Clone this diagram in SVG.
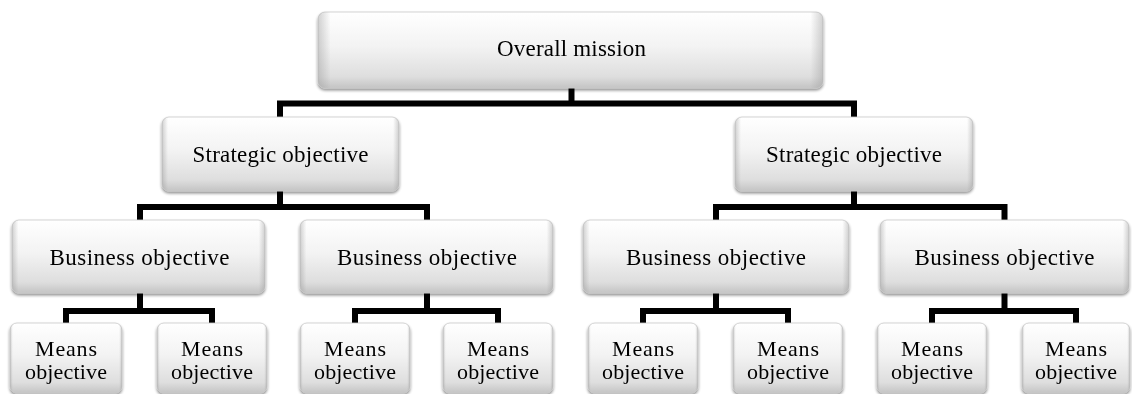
<svg xmlns="http://www.w3.org/2000/svg" width="1132" height="394" viewBox="0 0 1132 394">
  <defs>
    <linearGradient id="boxFill" x1="0" y1="0" x2="0" y2="1">
      <stop offset="0" stop-color="#ffffff"/>
      <stop offset="0.45" stop-color="#f3f3f3"/>
      <stop offset="0.85" stop-color="#dedede"/>
      <stop offset="1" stop-color="#c4c4c4"/>
    </linearGradient>
    <linearGradient id="sideShade" x1="0" y1="0" x2="1" y2="0">
      <stop offset="0" stop-color="#9a9a9a" stop-opacity="0.45"/>
      <stop offset="0.025" stop-color="#9a9a9a" stop-opacity="0"/>
      <stop offset="0.975" stop-color="#9a9a9a" stop-opacity="0"/>
      <stop offset="1" stop-color="#9a9a9a" stop-opacity="0.45"/>
    </linearGradient>
    <filter id="shadow" x="-5%" y="-10%" width="110%" height="125%">
      <feGaussianBlur in="SourceAlpha" stdDeviation="1.5"/>
      <feOffset dx="0" dy="2" result="blur"/>
      <feComponentTransfer><feFuncA type="linear" slope="0.45"/></feComponentTransfer>
      <feMerge><feMergeNode/><feMergeNode in="SourceGraphic"/></feMerge>
    </filter>
  </defs>
  <style>
    .box { fill: url(#boxFill); stroke: #c9c9c9; stroke-width: 0.8; }
    .shade { fill: url(#sideShade); stroke: none; }
    .lbl { font-family: "Liberation Serif", "Times New Roman", serif; font-size: 23px; fill: #000; text-anchor: middle; }
    .sm { font-size: 22px; }
    .link { fill: none; stroke: #000; stroke-width: 6; stroke-linejoin: miter; }
  </style>
  <rect width="1132" height="394" fill="#ffffff"/>

  <!-- connectors -->
  <g id="connectors">
    <path class="link" d="M571.5 88 V103.5"/>
    <path class="link" d="M280 117 V103.5 H854 V117"/>
    <path class="link" d="M280 191 V207"/>
    <path class="link" d="M140 220 V207 H427 V220"/>
    <path class="link" d="M854 191 V207"/>
    <path class="link" d="M716 220 V207 H1004.5 V220"/>
    <path class="link" d="M140 293 V311"/>
    <path class="link" d="M66 323 V311 H212 V323"/>
    <path class="link" d="M427 293 V311"/>
    <path class="link" d="M355 323 V311 H498 V323"/>
    <path class="link" d="M716 293 V311"/>
    <path class="link" d="M643 323 V311 H788 V323"/>
    <path class="link" d="M1004.5 293 V311"/>
    <path class="link" d="M932 323 V311 H1076 V323"/>
  </g>

  <!-- top level -->
  <g id="overall-mission" filter="url(#shadow)">
    <rect class="box" x="318" y="12" width="505" height="76" rx="7"/>
    <rect class="shade" x="318" y="12" width="505" height="76" rx="7"/>
    <text class="lbl" x="571.5" y="56" textLength="149" lengthAdjust="spacing">Overall mission</text>
  </g>

  <!-- strategic level -->
  <g id="strategic-left" filter="url(#shadow)">
    <rect class="box" x="162" y="117" width="237" height="74" rx="7"/>
    <rect class="shade" x="162" y="117" width="237" height="74" rx="7"/>
    <text class="lbl" x="280.5" y="162" textLength="176" lengthAdjust="spacing">Strategic objective</text>
  </g>
  <g id="strategic-right" filter="url(#shadow)">
    <rect class="box" x="735" y="117" width="238" height="74" rx="7"/>
    <rect class="shade" x="735" y="117" width="238" height="74" rx="7"/>
    <text class="lbl" x="854" y="162" textLength="176" lengthAdjust="spacing">Strategic objective</text>
  </g>

  <!-- business level -->
  <g id="business-1" filter="url(#shadow)">
    <rect class="box" x="12" y="220" width="253" height="73" rx="7"/>
    <rect class="shade" x="12" y="220" width="253" height="73" rx="7"/>
    <text class="lbl" x="139.5" y="265" textLength="180" lengthAdjust="spacing">Business objective</text>
  </g>
  <g id="business-2" filter="url(#shadow)">
    <rect class="box" x="300" y="220" width="253" height="73" rx="7"/>
    <rect class="shade" x="300" y="220" width="253" height="73" rx="7"/>
    <text class="lbl" x="427" y="265" textLength="180" lengthAdjust="spacing">Business objective</text>
  </g>
  <g id="business-3" filter="url(#shadow)">
    <rect class="box" x="583" y="220" width="266" height="73" rx="7"/>
    <rect class="shade" x="583" y="220" width="266" height="73" rx="7"/>
    <text class="lbl" x="716" y="265" textLength="180" lengthAdjust="spacing">Business objective</text>
  </g>
  <g id="business-4" filter="url(#shadow)">
    <rect class="box" x="880" y="220" width="249" height="73" rx="7"/>
    <rect class="shade" x="880" y="220" width="249" height="73" rx="7"/>
    <text class="lbl" x="1004.5" y="265" textLength="180" lengthAdjust="spacing">Business objective</text>
  </g>

  <!-- means level -->
  <g id="means-1" filter="url(#shadow)">
    <rect class="box" x="10" y="323" width="112" height="70" rx="7"/>
    <rect class="shade" x="10" y="323" width="112" height="70" rx="7"/>
    <text class="lbl sm" x="66" y="356" textLength="62" lengthAdjust="spacing">Means</text>
    <text class="lbl sm" x="66" y="379" textLength="82" lengthAdjust="spacing">objective</text>
  </g>
  <g id="means-2" filter="url(#shadow)">
    <rect class="box" x="157" y="323" width="110" height="70" rx="7"/>
    <rect class="shade" x="157" y="323" width="110" height="70" rx="7"/>
    <text class="lbl sm" x="212" y="356" textLength="62" lengthAdjust="spacing">Means</text>
    <text class="lbl sm" x="212" y="379" textLength="82" lengthAdjust="spacing">objective</text>
  </g>
  <g id="means-3" filter="url(#shadow)">
    <rect class="box" x="300" y="323" width="110" height="70" rx="7"/>
    <rect class="shade" x="300" y="323" width="110" height="70" rx="7"/>
    <text class="lbl sm" x="355" y="356" textLength="62" lengthAdjust="spacing">Means</text>
    <text class="lbl sm" x="355" y="379" textLength="82" lengthAdjust="spacing">objective</text>
  </g>
  <g id="means-4" filter="url(#shadow)">
    <rect class="box" x="443" y="323" width="110" height="70" rx="7"/>
    <rect class="shade" x="443" y="323" width="110" height="70" rx="7"/>
    <text class="lbl sm" x="498" y="356" textLength="62" lengthAdjust="spacing">Means</text>
    <text class="lbl sm" x="498" y="379" textLength="82" lengthAdjust="spacing">objective</text>
  </g>
  <g id="means-5" filter="url(#shadow)">
    <rect class="box" x="588" y="323" width="110" height="70" rx="7"/>
    <rect class="shade" x="588" y="323" width="110" height="70" rx="7"/>
    <text class="lbl sm" x="643" y="356" textLength="62" lengthAdjust="spacing">Means</text>
    <text class="lbl sm" x="643" y="379" textLength="82" lengthAdjust="spacing">objective</text>
  </g>
  <g id="means-6" filter="url(#shadow)">
    <rect class="box" x="733" y="323" width="110" height="70" rx="7"/>
    <rect class="shade" x="733" y="323" width="110" height="70" rx="7"/>
    <text class="lbl sm" x="788" y="356" textLength="62" lengthAdjust="spacing">Means</text>
    <text class="lbl sm" x="788" y="379" textLength="82" lengthAdjust="spacing">objective</text>
  </g>
  <g id="means-7" filter="url(#shadow)">
    <rect class="box" x="877" y="323" width="110" height="70" rx="7"/>
    <rect class="shade" x="877" y="323" width="110" height="70" rx="7"/>
    <text class="lbl sm" x="932" y="356" textLength="62" lengthAdjust="spacing">Means</text>
    <text class="lbl sm" x="932" y="379" textLength="82" lengthAdjust="spacing">objective</text>
  </g>
  <g id="means-8" filter="url(#shadow)">
    <rect class="box" x="1022" y="323" width="108" height="70" rx="7"/>
    <rect class="shade" x="1022" y="323" width="108" height="70" rx="7"/>
    <text class="lbl sm" x="1076" y="356" textLength="62" lengthAdjust="spacing">Means</text>
    <text class="lbl sm" x="1076" y="379" textLength="82" lengthAdjust="spacing">objective</text>
  </g>
</svg>
